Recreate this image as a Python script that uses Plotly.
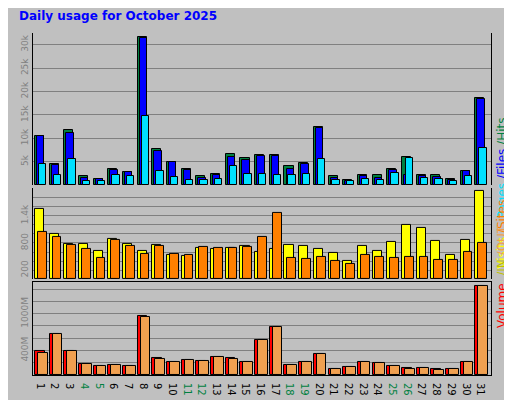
import plotly.graph_objects as go

days = list(range(1, 32))
weekend = [4, 5, 11, 12, 18, 19, 25, 26]

# valores en miles
hits = [10.6, 4.5, 11.7, 1.9, 1.4, 3.5, 2.9, 31.7, 7.7, 5.0, 3.5, 1.9, 2.4, 6.7, 5.8, 6.4,
        6.4, 4.2, 4.8, 12.5, 1.9, 1.2, 2.1, 2.1, 3.5, 6.0, 2.1, 2.1, 1.4, 3.1, 18.7]
files = [10.6, 4.3, 11.2, 1.6, 1.4, 3.3, 2.9, 31.4, 7.3, 5.0, 3.3, 1.6, 2.1, 6.0, 5.3, 6.2,
         6.2, 3.5, 4.5, 12.3, 1.6, 1.0, 1.9, 1.6, 3.3, 2.2, 1.9, 1.7, 1.2, 3.1, 18.5]
pages = [4.5, 2.2, 5.6, 1.0, 1.0, 2.2, 2.0, 14.7, 3.1, 1.8, 1.2, 1.2, 1.4, 4.1, 2.4, 2.4,
         2.2, 2.2, 2.4, 5.6, 1.2, 0.8, 1.4, 1.2, 2.7, 5.8, 1.6, 1.4, 0.8, 2.0, 7.9]
visits = [1556, 1000, 778, 778, 622, 889, 778, 622, 756, 533, 519, 689, 674, 689, 733, 600,
          667, 756, 733, 667, 578, 400, 733, 622, 822, 1200, 1133, 844, 533, 867, 1956]
sites = [1045, 941, 756, 674, 474, 867, 733, 556, 733, 556, 533, 711, 689, 689, 711, 933,
         1467, 474, 452, 496, 400, 333, 533, 496, 474, 496, 496, 430, 430, 600, 800]
# MB
volume = [384, 675, 400, 173, 140, 157, 140, 967, 270, 205, 238, 221, 286, 270, 205, 578,
          789, 157, 205, 351, 92, 124, 205, 189, 140, 108, 108, 92, 92, 205, 1453]
vol_out = [367, 675, 400, 173, 140, 157, 140, 951, 254, 205, 238, 221, 286, 254, 205, 578,
           789, 157, 205, 335, 92, 124, 205, 189, 140, 92, 108, 76, 92, 205, 1453]

fig = go.Figure()

def barras(y, color, offset, width, axis):
    fig.add_trace(go.Bar(
        x=days, y=y, offset=offset, width=width, yaxis=axis,
        marker=dict(color=color, line=dict(color='black', width=1)),
        showlegend=False, hoverinfo='y'
    ))

barras(hits, '#008040', -0.47, 0.62, 'y')
barras(files, '#0000FF', -0.33, 0.5, 'y')
barras(pages, '#00E0FF', -0.2, 0.5, 'y')
barras(visits, '#FFFF00', -0.47, 0.62, 'y2')
barras(sites, '#FF8000', -0.27, 0.6, 'y2')
barras(volume, '#FF0000', -0.47, 0.66, 'y3')
barras(vol_out, '#F0A050', -0.27, 0.66, 'y3')

ticktext = [f"<span style='color:#008040'>{d}</span>" if d in weekend else str(d) for d in days]

ejes = dict(showline=True, linecolor='black', mirror=True, gridcolor='#808080',
            tickangle=-90, tickfont=dict(size=9, color='#808080'), zeroline=False,
            ticks='', fixedrange=True)

def etiqueta(texto, y):
    return dict(text=texto, x=1.0, xanchor='left', xshift=2, y=y, xref='paper', yref='paper',
                textangle=-90, showarrow=False, font=dict(size=12))

fig.update_layout(
    width=512, height=400,
    paper_bgcolor='#C0C0C0', plot_bgcolor='#C0C0C0',
    margin=dict(l=22, r=29, t=25, b=22),
    barmode='overlay', bargap=0,
    font=dict(family='DejaVu Sans', size=10, color='black'),
    xaxis=dict(range=[0.4, 31.6], tickvals=days, ticktext=ticktext, showgrid=False,
               showline=True, linecolor='black', mirror=True, ticks='',
               tickfont=dict(size=10, color='black'), anchor='y3'),
    yaxis=dict(domain=[0.555, 1.0], range=[0, 32.5], tickvals=[5, 10, 15, 20, 25, 30],
               ticktext=['5k', '10k', '15k', '20k', '25k', '30k'], **ejes),
    yaxis2=dict(domain=[0.28, 0.547], range=[0, 2015], tickvals=list(range(200, 2001, 200)),
                ticktext=['200', '', '', '800', '', '', '1.4k', '', '', ''], **ejes),
    yaxis3=dict(domain=[0, 0.272], range=[0, 1517], tickvals=list(range(200, 1401, 200)),
                ticktext=['', '400M', '', '', '1000M', '', ''], **ejes),
    annotations=[
        dict(text='<b>Daily usage for October 2025</b>', x=-0.034, xanchor='left', y=1.075,
             xref='paper', yref='paper', showarrow=False, font=dict(size=12, color='#0000FF')),
        etiqueta("<span style='color:#00E0FF'>Pages</span><span style='color:#0000FF'> /Files</span>"
                 "<span style='color:#008040'> /Hits_</span>", 0.78),
        etiqueta("<span style='color:#FFFF00'>Visits</span><span style='color:#FF8000'> /Sites</span>", 0.41),
        etiqueta("<span style='color:#FF0000'>Volume</span><span style='color:#C0C000'>  /IN</span>"
                 "<span style='color:#F0A050'> /OUT</span>", 0.13),
    ],
)

fig.write_html("out.html")
